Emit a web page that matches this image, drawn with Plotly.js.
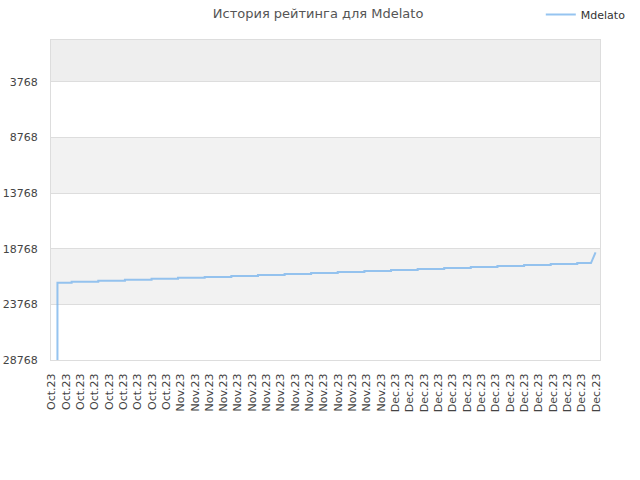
<!DOCTYPE html>
<html>
<head>
<meta charset="utf-8">
<script src="https://cdn.plot.ly/plotly-3.0.1.min.js"></script>
<style>html,body{margin:0;padding:0;background:#fff;}#chart{width:640px;height:480px;}</style>
</head>
<body>
<div id="chart"></div>
<script>
// Tick labels along the x axis
const tickLabels = [
  "Oct.23","Oct.23","Oct.23","Oct.23","Oct.23","Oct.23","Oct.23","Oct.23","Oct.23",
  "Nov.23","Nov.23","Nov.23","Nov.23","Nov.23","Nov.23","Nov.23","Nov.23","Nov.23","Nov.23","Nov.23","Nov.23","Nov.23","Nov.23","Nov.23",
  "Dec.23","Dec.23","Dec.23","Dec.23","Dec.23","Dec.23","Dec.23","Dec.23","Dec.23","Dec.23","Dec.23","Dec.23","Dec.23","Dec.23","Dec.23"
];
const yTicks = [3768, 8768, 13768, 18768, 23768, 28768];

// Rating (rank) history: start of each plateau (x in tick-label units) and its rank
const stepStartX = [0.40, 1.39, 3.25, 5.11, 6.97, 8.82, 10.68, 12.54, 14.40, 16.26, 18.11,
                    19.97, 21.83, 23.69, 25.55, 27.40, 29.26, 31.12, 32.98, 34.84, 36.69];
const stepRank   = [21826, 21736, 21646, 21556, 21466, 21376, 21313, 21223, 21133, 21044, 20954,
                    20864, 20774, 20684, 20594, 20504, 20414, 20324, 20234, 20144, 20054];
const startRank = 29500;      // initial value (below the visible range)
const lastStepEndX = 37.65;
const finalX = 37.97;
const finalRank = 19092;

const xs = [stepStartX[0]];
const ys = [startRank];
for (let i = 0; i < stepStartX.length; i++) {
  const endX = i + 1 < stepStartX.length ? stepStartX[i + 1] : lastStepEndX;
  xs.push(stepStartX[i], endX);
  ys.push(stepRank[i], stepRank[i]);
}
xs.push(finalX);
ys.push(finalRank);

const trace = {
  x: xs, y: ys, type: 'scatter', mode: 'lines', name: 'Mdelato',
  line: {color: 'rgba(124,181,236,0.8)', width: 2}
};

const bands = [
  {y0: 0, y1: 3768, c: '#eeeeee'},
  {y0: 8768, y1: 13768, c: '#f2f2f2'},
  {y0: 18768, y1: 23768, c: '#f2f2f2'}
];
const shapes = bands.map(b => ({
  type: 'rect', xref: 'paper', yref: 'y', x0: 0, x1: 1, y0: b.y0, y1: b.y1,
  fillcolor: b.c, line: {width: 0}, layer: 'below'
}));

const layout = {
  width: 640, height: 480,
  margin: {l: 51, r: 40, t: 40, b: 120, pad: 0, autoexpand: false},
  paper_bgcolor: '#ffffff', plot_bgcolor: '#ffffff',
  font: {family: 'DejaVu Sans, sans-serif', size: 11, color: '#555555'},
  title: {text: 'История рейтинга для Mdelato', x: 0.497, xref: 'container', xanchor: 'center',
          y: 0.973, yref: 'container', yanchor: 'middle',
          font: {family: 'DejaVu Sans, sans-serif', size: 13, color: '#555555'}},
  showlegend: true,
  legend: {xref: 'container', yref: 'container', x: 0.845, xanchor: 'left', y: 1.0, yanchor: 'top',
           bgcolor: 'rgba(0,0,0,0)', font: {size: 11, color: '#333333'}},
  xaxis: {
    range: [-0.05, 38.28], tickmode: 'array',
    tickvals: tickLabels.map((_, i) => i), ticktext: tickLabels,
    tickangle: -90, showgrid: false, zeroline: false,
    showline: true, mirror: true, linecolor: '#dddddd', linewidth: 1,
    ticks: '', ticklabelstandoff: 8,
    tickfont: {size: 11, color: '#444444'}
  },
  yaxis: {
    range: [28768, 0], tickmode: 'array', tickvals: yTicks,
    ticktext: yTicks.map(String),
    showgrid: true, gridcolor: '#dddddd', gridwidth: 1, zeroline: false,
    showline: true, mirror: true, linecolor: '#dddddd', linewidth: 1,
    ticks: '', ticklabelstandoff: 10,
    tickfont: {size: 11, color: '#444444'}
  },
  shapes: shapes,
  hovermode: false
};

Plotly.newPlot('chart', [trace], layout, {staticPlot: true, displayModeBar: false});
</script>
</body>
</html>
